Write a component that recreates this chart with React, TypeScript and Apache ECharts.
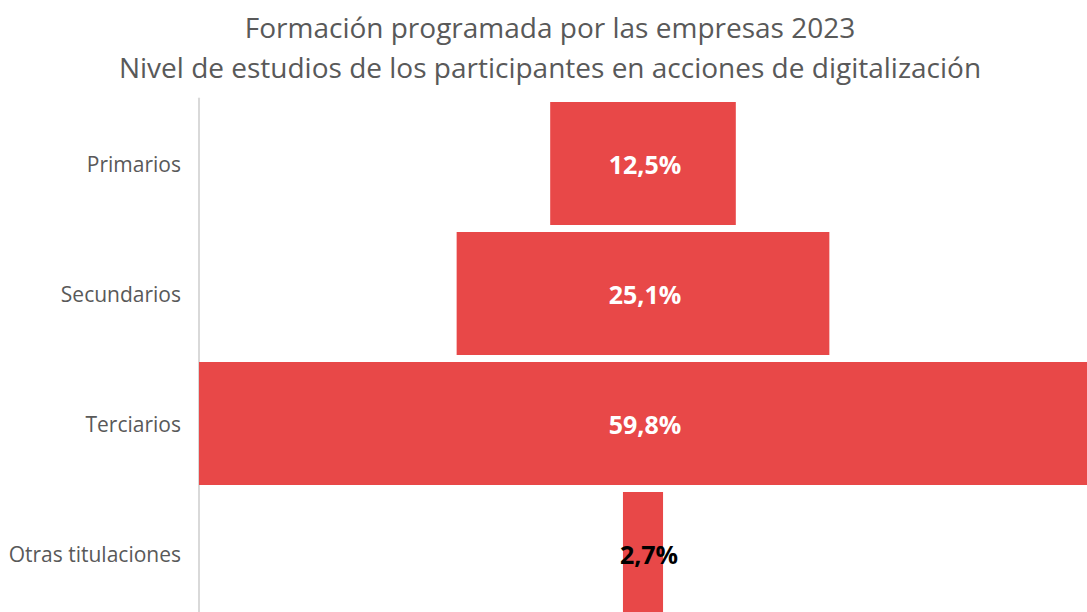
import React, { useEffect, useRef } from "react";
import * as echarts from "echarts";

const categories = ["Primarios", "Secundarios", "Terciarios", "Otras titulaciones"];
const values = [12.5, 25.1, 59.8, 2.7];
const labelColors = ["#ffffff", "#ffffff", "#ffffff", "#000000"];
const titleLines = [
  "Formación programada por las empresas 2023",
  "Nivel de estudios de los participantes en acciones de digitalización",
];

export default function App() {
  const ref = useRef<HTMLDivElement>(null);
  useEffect(() => {
    if (!ref.current) return;
    const chart = echarts.init(ref.current, undefined, { renderer: "svg" });
    const maxV = Math.max(...values);
    const offsets = values.map((v) => (maxV - v) / 2);
    chart.setOption({
      animation: false,
      graphic: titleLines.map((t, i) => ({
        type: "text",
        x: 550,
        y: 27 + i * 40,
        style: {
          text: t,
          fill: "#595959",
          font: 'normal 28px "Open Sans"',
          textAlign: "center",
          textVerticalAlign: "middle",
        },
      })),
      grid: { left: 199, right: 0, top: 98.5, height: 520, containLabel: false },
      xAxis: {
        type: "value",
        min: 0,
        max: maxV,
        show: false,
      },
      yAxis: {
        type: "category",
        data: categories,
        inverse: true,
        axisLine: { show: true, lineStyle: { color: "#d9d9d9", width: 2 } },
        axisTick: { show: false },
        axisLabel: {
          fontFamily: "Open Sans",
          fontSize: 21,
          color: "#595959",
          margin: 18,
        },
      },
      series: [
        {
          type: "bar",
          stack: "f",
          data: offsets,
          itemStyle: { color: "transparent" },
          barCategoryGap: "5.4%",
          silent: true,
        },
        {
          type: "bar",
          stack: "f",
          data: values.map((v, i) => ({
            value: v,
            label: { color: labelColors[i], offset: [i === values.length - 1 ? 6 : 2, 0] },
          })),
          itemStyle: { color: "#E84848" },
          barCategoryGap: "5.4%",
          label: {
            show: true,
            position: "inside",
            fontFamily: "Open Sans",
            fontWeight: "bold",
            fontSize: 25,
            formatter: (p: any) => p.value.toFixed(1).replace(".", ",") + "%",
          },
        },
      ],
    });
    return () => chart.dispose();
  }, []);
  return (
    <div style={{ position: "absolute", left: 0, top: 0, width: 1087, height: 612, overflow: "hidden" }}>
      <div ref={ref} style={{ width: 1087, height: 640 }} />
    </div>
  );
}
